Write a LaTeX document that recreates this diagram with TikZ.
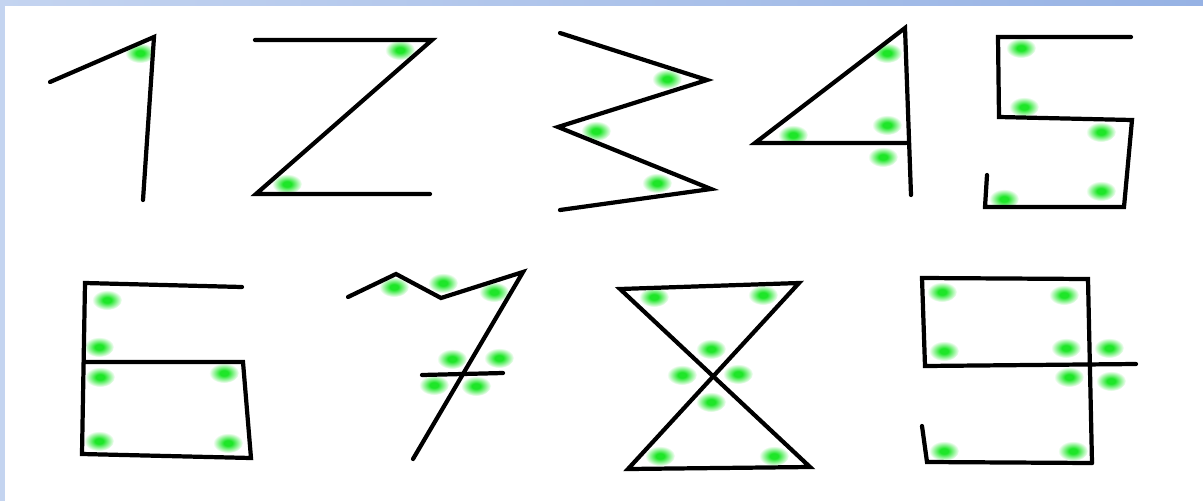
\documentclass[tikz,border=0pt]{standalone}
\usepackage{tikz}

\definecolor{glowgreen}{RGB}{30,230,40}
\definecolor{bandlight}{RGB}{196,212,240}
\definecolor{banddark}{RGB}{150,178,228}
\pgfdeclareradialshading{glowdot}{\pgfpointorigin}{color(0bp)=(glowgreen); color(7bp)=(glowgreen); color(25bp)=(white); color(50bp)=(white)}

\begin{document}
\begin{tikzpicture}[x=0.025cm, y=-0.025cm,
    stroke/.style={line width=3pt, line cap=round},
    dot/.style={shading=glowdot}]
  \useasboundingbox (0,0) rectangle (1203,501);

  % Frame of the slide
  \fill[white] (0,0) rectangle (1203,501);
  \shade[left color=bandlight, right color=banddark] (0,0) rectangle (1203,5);
  \fill[bandlight] (0,0) rectangle (5,501);

  % Glowing corners, first row
  \foreach \p in {(140,53), (400,50), (287,184),
                  (667,79), (596,131), (657,183),
                  (887,53), (887,125), (793,135), (883,157),
                  (1021,48), (1024,107), (1101,132), (1101,191), (1004,199)}
    \shade[dot] \p ellipse (15 and 10);

  % Glowing corners, second row
  \foreach \p in {(107,300), (99,347), (100,377), (224,373), (99,441), (228,443),
                  (394,287), (443,283), (494,292), (452,359), (499,358), (434,385), (476,386),
                  (654,297), (763,295), (711,349), (682,375), (738,374), (711,402), (660,456), (774,456),
                  (942,292), (1064,295), (944,351), (1066,348), (1109,348), (1069,377), (1111,381), (944,451), (1073,451)}
    \shade[dot] \p ellipse (15 and 10);

  % One
  \draw[stroke] (50,82) -- (154,37) -- (143,200);

  % Two
  \draw[stroke] (255,40) -- (432,40) -- (256,194) -- (430,194);

  % Three
  \draw[stroke] (560,33) -- (707,80) -- (558,127) -- (711,189) -- (560,210);

  % Four
  \draw[stroke] (911,195) -- (905,28) -- (755,143) -- (906,143);

  % Five
  \draw[stroke] (1131,37) -- (998,37) -- (999,117) -- (1132,120)
    -- (1124,207) -- (985,207) -- (987,175);

  % Six
  \draw[stroke] (242,287) -- (85,283) -- (82,454) -- (251,458) -- (243,362) -- (86,362);

  % Seven
  \draw[stroke] (348,297) -- (396,274) -- (441,298) -- (523,272) -- (413,459);
  \draw[stroke] (422,375) -- (503,373);

  % Eight
  \draw[stroke] (620,289) -- (799,283) -- (628,469) -- (810,467) -- cycle;

  % Nine
  \draw[stroke] (1092,463) -- (1088,279) -- (922,278) -- (925,366) -- (1136,364);
  \draw[stroke] (922,426) -- (927,462) -- (1092,463);
\end{tikzpicture}
\end{document}
